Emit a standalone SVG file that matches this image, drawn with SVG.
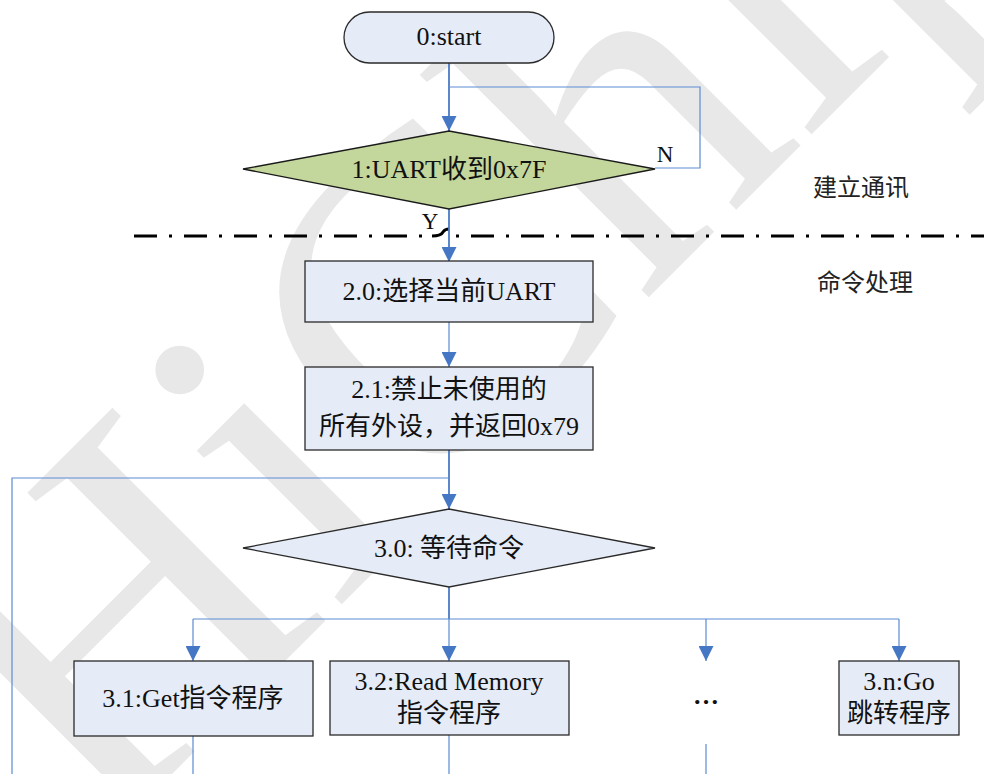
<svg xmlns="http://www.w3.org/2000/svg" width="984" height="774" viewBox="0 0 984 774">
  <style>
    .wm { font-family: "Liberation Serif", serif; font-size: 460px; fill: #e8e8e8; }
    .box { fill: #e6ecf7; stroke: #2a2a2a; stroke-width: 1.3; }
    .dec { fill: #c3d69b; stroke: #1a1a1a; stroke-width: 1.3; }
    .lbl { font-family: "Liberation Serif", "Noto Sans CJK SC", serif; font-size: 26px; fill: #111; text-anchor: middle; }
    .side { font-family: "Noto Sans CJK SC", sans-serif; font-size: 24px; fill: #222; text-anchor: middle; }
    .yn { font-family: "Liberation Serif", serif; font-size: 23px; fill: #111; text-anchor: middle; }
    .main { fill: none; stroke: #4a7bc6; stroke-width: 1.8; }
    .thin { fill: none; stroke: #5b8bd2; stroke-width: 1.2; }
    .sep { fill: none; stroke: #000; stroke-width: 3; }
  </style>
  <defs>
    <marker id="arr" viewBox="0 0 10 10" refX="10" refY="5" markerWidth="15" markerHeight="15" markerUnits="userSpaceOnUse" orient="auto">
      <path d="M0,0 L10,5 L0,10 Z" fill="#4677c4"/>
    </marker>
  </defs>

  <rect width="984" height="774" fill="#fff"/>

  <!-- background watermark -->
  <text class="wm" transform="translate(100,846) rotate(-45)">HiChip</text>

  <!-- stage separator -->
  <g id="separator">
    <line class="sep" x1="134" y1="236" x2="433" y2="236" stroke-dasharray="23 12 3 12"/>
    <path class="sep" d="M432,236 Q441,236 443,232 Q445,229 449,229" stroke-width="2.5"/>
    <line class="sep" x1="456" y1="236" x2="984" y2="236" stroke-dasharray="3 12 23 12"/>
  </g>

  <!-- connectors -->
  <g id="connectors">
    <path class="main" d="M449,63 V131" marker-end="url(#arr)"/>
    <path class="thin" d="M655,168 H700 V87 H449"/>
    <path class="main" d="M449,209 V262" marker-end="url(#arr)"/>
    <path class="thin" d="M449,322 V367" marker-end="url(#arr)"/>
    <path class="main" d="M449,450 V509" marker-end="url(#arr)"/>
    <path class="thin" d="M12,774 V478 H449"/>
    <path class="main" d="M449,587 V619"/>
    <path class="thin" d="M193,619 H899"/>
    <path class="thin" d="M193,619 V661" marker-end="url(#arr)"/>
    <path class="thin" d="M449,619 V661" marker-end="url(#arr)"/>
    <path class="thin" d="M706,619 V661" marker-end="url(#arr)"/>
    <path class="thin" d="M899,619 V661" marker-end="url(#arr)"/>
    <path class="thin" d="M193,736 V774"/>
    <path class="thin" d="M449,735 V774"/>
    <path class="thin" d="M706,744 V774"/>
  </g>

  <g id="start">
    <rect class="box" x="344" y="12" width="210" height="51" rx="25.5"/>
    <text class="lbl" x="449" y="45">0:start</text>
  </g>

  <g id="uart-check">
    <polygon class="dec" points="449,131 655,169 449,209 243,169"/>
    <text class="lbl" x="449" y="178">1:UART收到0x7F</text>
  </g>
  <text class="yn" x="665" y="162">N</text>
  <text class="yn" x="430" y="229">Y</text>

  <g id="stage-labels">
    <text class="side" x="861" y="196">建立通讯</text>
    <text class="side" x="865" y="291">命令处理</text>
  </g>

  <g id="select-uart">
    <rect class="box" x="305" y="261" width="288" height="61"/>
    <text class="lbl" x="449" y="300">2.0:选择当前UART</text>
  </g>

  <g id="disable-periph">
    <rect class="box" x="305" y="367" width="288" height="83"/>
    <text class="lbl" x="449" y="398">2.1:禁止未使用的</text>
    <text class="lbl" x="449" y="435">所有外设，并返回0x79</text>
  </g>

  <g id="wait-cmd">
    <polygon class="box" points="449,509 655,548 449,587 243,548"/>
    <text class="lbl" x="449" y="557">3.0: 等待命令</text>
  </g>

  <g id="cmd-get">
    <rect class="box" x="74" y="661" width="239" height="75"/>
    <text class="lbl" x="193" y="707">3.1:Get指令程序</text>
  </g>

  <g id="cmd-read">
    <rect class="box" x="330" y="661" width="239" height="74"/>
    <text class="lbl" x="449" y="690">3.2:Read Memory</text>
    <text class="lbl" x="449" y="722">指令程序</text>
  </g>

  <g id="cmd-more">
    <text class="lbl" x="706" y="704" font-size="34" font-weight="bold">…</text>
  </g>

  <g id="cmd-go">
    <rect class="box" x="839" y="661" width="120" height="74"/>
    <text class="lbl" x="899" y="690">3.n:Go</text>
    <text class="lbl" x="899" y="722">跳转程序</text>
  </g>
</svg>
